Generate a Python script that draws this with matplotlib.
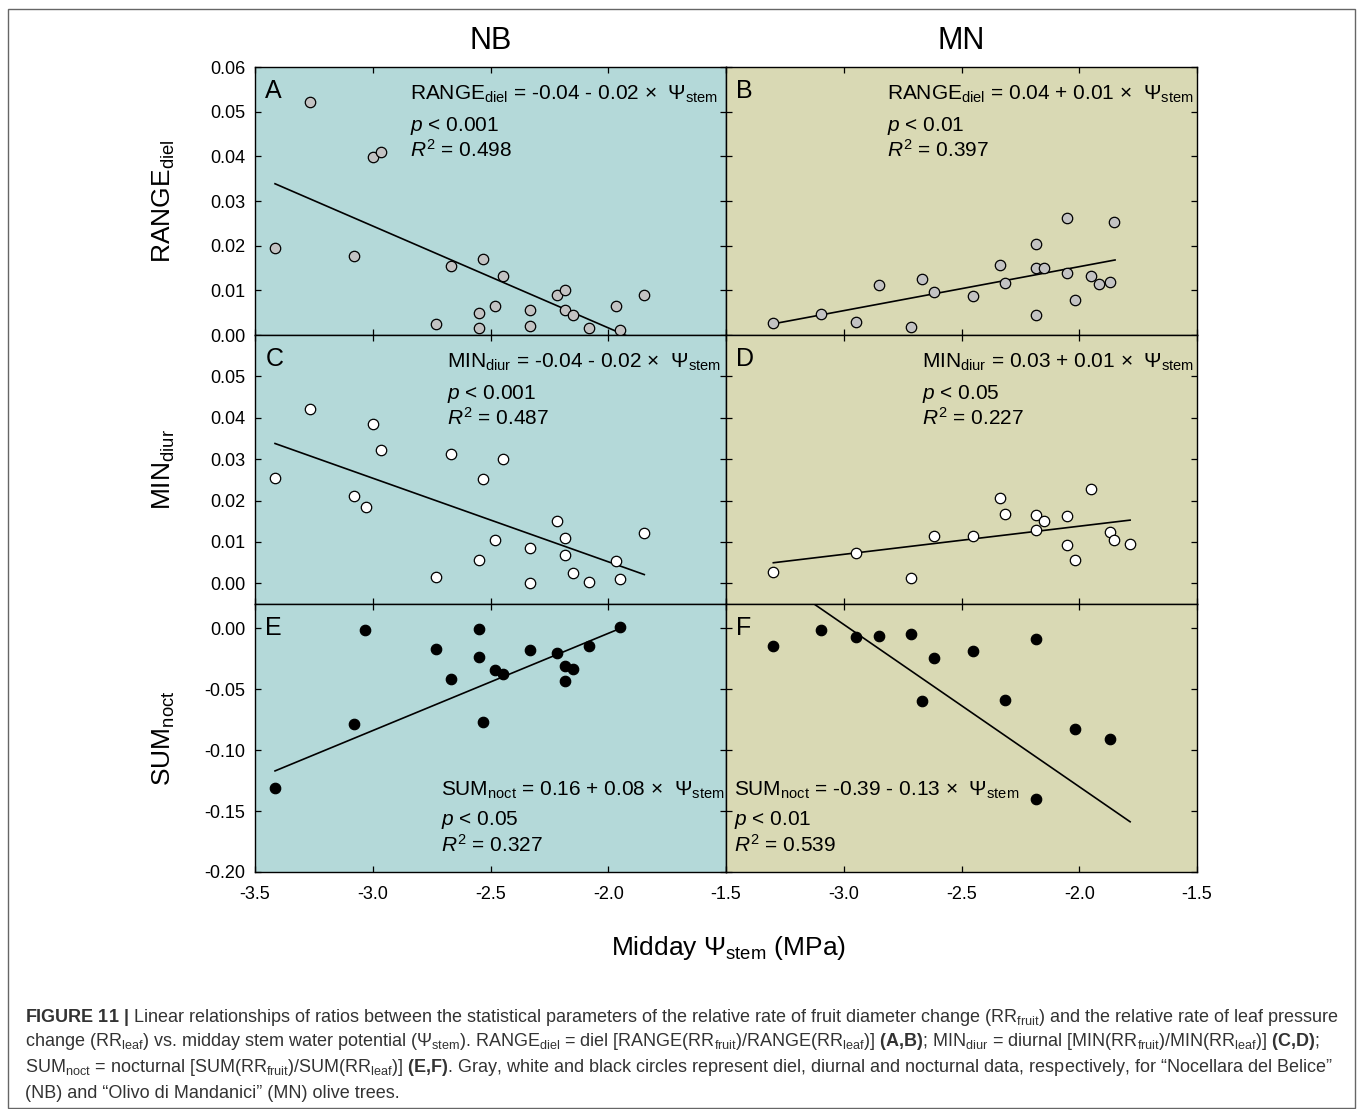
import matplotlib
matplotlib.use("Agg")
import matplotlib.pyplot as plt
from matplotlib.patches import Rectangle
import numpy as np

plt.rcParams['font.family'] = ['Liberation Sans', 'DejaVu Sans']
plt.rcParams['mathtext.fontset'] = 'custom'
plt.rcParams['mathtext.rm'] = 'Liberation Sans'
plt.rcParams['mathtext.it'] = 'Liberation Sans:italic'
plt.rcParams['mathtext.bf'] = 'Liberation Sans:bold'

# ---- data ----
# NB (left column)
nb_psi = [-3.415, -3.266, -2.998, -2.965, -3.080, -2.666, -2.530, -2.448, -2.731, -2.549, -2.549,
          -2.482, -2.331, -2.331, -2.216, -2.182, -2.182, -2.148, -2.083, -1.966, -1.949, -1.848]
nb_range = [0.0195, 0.0521, 0.0398, 0.0409, 0.0177, 0.0155, 0.0171, 0.0133, 0.0025, 0.0049, 0.0016,
            0.0064, 0.0057, 0.0021, 0.0089, 0.0101, 0.0057, 0.0044, 0.0016, 0.0066, 0.0011, 0.0089]
nb_min_psi = [-3.415, -3.265, -2.998, -2.965, -3.080, -3.030, -2.666, -2.448, -2.530, -2.731, -2.549,
              -2.482, -2.331, -2.331, -2.216, -2.182, -2.182, -2.148, -2.083, -1.966, -1.949, -1.848]
nb_min = [0.0254, 0.0420, 0.0385, 0.0323, 0.0212, 0.0184, 0.0312, 0.0300, 0.0251, 0.0015, 0.0057,
          0.0105, 0.0086, 0.0001, 0.0150, 0.0110, 0.0068, 0.0025, 0.0004, 0.0054, 0.0011, 0.0122]
nb_sum_psi = [-3.415, -3.080, -3.032, -2.731, -2.666, -2.549, -2.549, -2.530, -2.482, -2.448, -2.331,
              -2.216, -2.182, -2.148, -2.182, -2.083, -1.949]
nb_sum = [-0.1309, -0.0787, -0.0016, -0.0167, -0.0418, -0.0008, -0.0232, -0.0768, -0.0342, -0.0374,
          -0.0178, -0.0199, -0.0309, -0.0331, -0.0429, -0.0142, 0.0008]

# MN (right column)
mn_range_psi = [-3.299, -3.098, -2.949, -2.850, -2.714, -2.666, -2.617, -2.451, -2.335, -2.315, -2.185,
                -2.185, -2.150, -2.185, -2.051, -2.051, -2.017, -1.950, -1.916, -1.868, -1.852]
mn_range = [0.0026, 0.0047, 0.0028, 0.0112, 0.0017, 0.0126, 0.0097, 0.0088, 0.0156, 0.0116, 0.0203,
            0.0151, 0.0151, 0.0044, 0.0263, 0.0139, 0.0078, 0.0132, 0.0115, 0.0119, 0.0252]
mn_min_psi = [-3.299, -2.949, -2.714, -2.617, -2.451, -2.335, -2.315, -2.185, -2.185, -2.150, -2.051,
              -2.051, -2.017, -1.950, -1.868, -1.852, -1.784]
mn_min = [0.0027, 0.0074, 0.0012, 0.0115, 0.0115, 0.0207, 0.0167, 0.0164, 0.0130, 0.0151, 0.0163,
          0.0093, 0.0056, 0.0229, 0.0123, 0.0105, 0.0096]
mn_sum_psi = [-3.299, -3.098, -2.949, -2.850, -2.716, -2.617, -2.666, -2.451, -2.315, -2.185, -2.185,
              -2.019, -1.868]
mn_sum = [-0.0145, -0.0011, -0.0071, -0.0063, -0.0044, -0.0240, -0.0596, -0.0189, -0.0588, -0.0090,
          -0.1404, -0.0825, -0.0910]

# regression lines: intercept, slope, x from, x to
fit_intercept = [-0.044, 0.0350, -0.0352, 0.0274, 0.1555, -0.3964]
fit_slope = [-0.0228, 0.00985, -0.0202, 0.0068, 0.0798, -0.1332]
fit_xmin = [-3.415, -3.299, -3.415, -3.299, -3.415, -3.299]
fit_xmax = [-1.848, -1.848, -1.847, -1.784, -1.949, -1.784]

panel_letters = ['A', 'B', 'C', 'D', 'E', 'F']
equations = [r'RANGE$_{\rm diel}$ = -0.04 - 0.02 ×  $\Psi_{\rm stem}$',
             r'RANGE$_{\rm diel}$ = 0.04 + 0.01 ×  $\Psi_{\rm stem}$',
             r'MIN$_{\rm diur}$ = -0.04 - 0.02 ×  $\Psi_{\rm stem}$',
             r'MIN$_{\rm diur}$ = 0.03 + 0.01 ×  $\Psi_{\rm stem}$',
             r'SUM$_{\rm noct}$ = 0.16 + 0.08 ×  $\Psi_{\rm stem}$',
             r'SUM$_{\rm noct}$ = -0.39 - 0.13 ×  $\Psi_{\rm stem}$']
p_texts = ['0.001', '0.01', '0.001', '0.05', '0.05', '0.01']
r2_texts = ['0.498', '0.397', '0.487', '0.227', '0.327', '0.539']

col_titles = ['NB', 'MN']
row_labels = [r'RANGE$_{\rm diel}$', r'MIN$_{\rm diur}$', r'SUM$_{\rm noct}$']
row_ylim = [(0.0, 0.06), (-0.005, 0.06), (-0.20, 0.02)]
row_yticks = [[0, 0.01, 0.02, 0.03, 0.04, 0.05, 0.06],
              [0, 0.01, 0.02, 0.03, 0.04, 0.05],
              [-0.20, -0.15, -0.10, -0.05, 0.0]]
xticks = [-3.5, -3.0, -2.5, -2.0, -1.5]

xs = [nb_psi, mn_range_psi, nb_min_psi, mn_min_psi, nb_sum_psi, mn_sum_psi]
ys = [nb_range, mn_range, nb_min, mn_min, nb_sum, mn_sum]
fill_colors = ['#c3c3c3', '#c3c3c3', 'white', 'white', 'black', 'black']
bg_colors = ['#b4d9d9', '#d9d9b4']

W, H = 1358, 1109
fig = plt.figure(figsize=(W / 100, H / 100), dpi=100)

col_left = [255, 726]
row_top = [67, 335, 604]
ax_w = 471
ax_h = [268, 269, 268]

for i in range(6):
    r, c = divmod(i, 2)
    left = col_left[c] / W
    bottom = 1 - (row_top[r] + ax_h[r]) / H
    ax = fig.add_axes([left, bottom, ax_w / W, ax_h[r] / H])
    ax.set_facecolor(bg_colors[c])
    ax.set_xlim(-3.5, -1.5)
    ax.set_ylim(*row_ylim[r])
    ax.set_xticks(xticks)
    ax.set_yticks(row_yticks[r])
    ax.tick_params(direction='in', length=4.5, width=0.9, top=True, right=True,
                   labelsize=13)
    ax.tick_params(axis='y', pad=7)
    ax.tick_params(axis='x', pad=10)
    for s in ax.spines.values():
        s.set_linewidth(1.0)

    if c == 0:
        ax.set_yticklabels(['%.2f' % v for v in row_yticks[r]])
        ax.set_ylabel(row_labels[r], fontsize=19)
        ax.yaxis.set_label_coords(-0.165, 0.5)
    else:
        ax.set_yticklabels([])
    if r == 2:
        labs = ['%.1f' % v for v in xticks]
        if c == 1:
            labs[0] = ''
        ax.set_xticklabels(labs)
    else:
        ax.set_xticklabels([])
    if r == 0:
        ax.set_title(col_titles[c], fontsize=22, pad=13)

    xl = np.array([fit_xmin[i], fit_xmax[i]])
    ax.plot(xl, fit_intercept[i] + fit_slope[i] * xl, color='black', lw=1.2, zorder=2)
    ax.plot(xs[i], ys[i], 'o', ms=7.5, mfc=fill_colors[i], mec='black', mew=0.9,
            zorder=3, clip_on=False)

    ax.text(0.022, 0.955, panel_letters[i], transform=ax.transAxes,
            fontsize=18, va='top', ha='left')

    tx = [0.329, 0.342, 0.408, 0.416, 0.395, 0.017][i]
    if r < 2:
        yl = [0.879, 0.763, 0.665]
    else:
        yl = [0.286, 0.176, 0.076]
    ax.text(tx, yl[0], equations[i], transform=ax.transAxes, fontsize=15, va='baseline')
    ax.text(tx, yl[1], r'$p$ < ' + p_texts[i], transform=ax.transAxes, fontsize=15, va='baseline')
    ax.text(tx, yl[2], r'$R^2$ = ' + r2_texts[i], transform=ax.transAxes, fontsize=15, va='baseline')

fig.text(728 / W, 1 - 948 / H, r'Midday $\Psi_{\rm stem}$ (MPa)', fontsize=19,
         ha='center', va='center')

caption = [
    r'$\mathbf{FIGURE\ 11\ |}$ Linear relationships of ratios between the statistical parameters of the relative rate of fruit diameter change (RR$_{\rm fruit}$) and the relative rate of leaf pressure',
    r'change (RR$_{\rm leaf}$) vs. midday stem water potential ($\Psi_{\rm stem}$). RANGE$_{\rm diel}$ = diel [RANGE(RR$_{\rm fruit}$)/RANGE(RR$_{\rm leaf}$)] $\mathbf{(A{,}B)}$; MIN$_{\rm diur}$ = diurnal [MIN(RR$_{\rm fruit}$)/MIN(RR$_{\rm leaf}$)] $\mathbf{(C{,}D)}$;',
    r'SUM$_{\rm noct}$ = nocturnal [SUM(RR$_{\rm fruit}$)/SUM(RR$_{\rm leaf}$)] $\mathbf{(E{,}F)}$. Gray, white and black circles represent diel, diurnal and nocturnal data, respectively, for “Nocellara del Belice”',
    r'(NB) and “Olivo di Mandanici” (MN) olive trees.',
]
cap_y = [1017, 1042, 1068, 1093]
for line, y in zip(caption, cap_y):
    fig.text(25 / W, 1 - y / H, line, fontsize=12.95, color='#333333', ha='left', va='center')

fig.patches.append(Rectangle((8 / W, 1 / H), (1355 - 8) / W, (1108 - 9) / H,
                             transform=fig.transFigure, fill=False, edgecolor='#666666', lw=1.0))

fig.savefig('out.png', dpi=100)
